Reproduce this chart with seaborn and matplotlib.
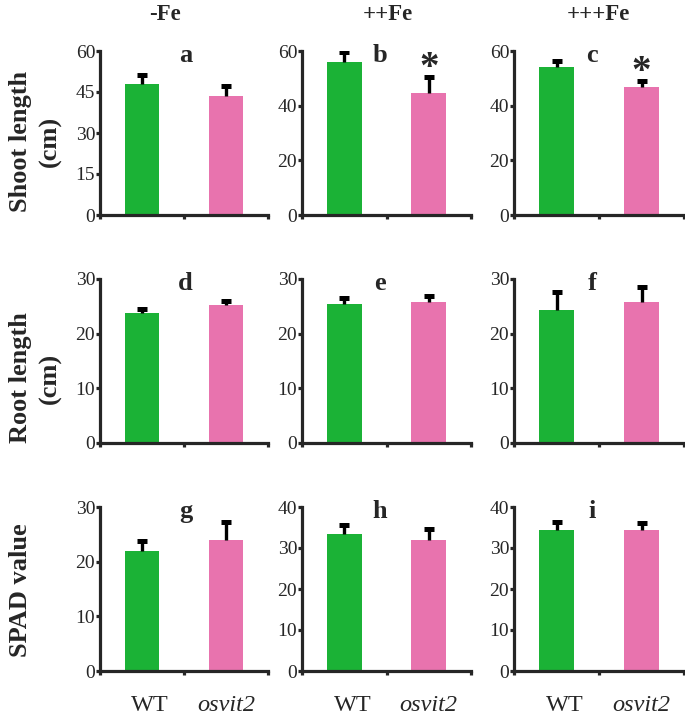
import pandas as pd
import matplotlib.pyplot as plt
import seaborn as sns

# Style
sns.set_style("ticks")
plt.rcParams['font.family'] = ['Liberation Serif', 'DejaVu Serif']

# Data: [WT, osvit2] for each Fe condition
genotypes = ['WT', 'osvit2']
conditions = ['-Fe', '++Fe', '+++Fe']
panel_letters = [['a', 'b', 'c'], ['d', 'e', 'f'], ['g', 'h', 'i']]

shoot_mean = [[48.1, 43.5], [55.9, 44.6], [54.0, 46.8]]
shoot_err = [[3.2, 3.7], [3.8, 5.8], [2.3, 2.4]]
shoot_ticks = [[0, 15, 30, 45, 60], [0, 20, 40, 60], [0, 20, 40, 60]]
shoot_star = [[False, False], [False, True], [False, True]]

root_mean = [[23.7, 25.3], [25.4, 25.8], [24.3, 25.8]]
root_err = [[0.8, 0.7], [1.1, 1.1], [3.4, 2.7]]
root_ticks = [[0, 10, 20, 30], [0, 10, 20, 30], [0, 10, 20, 30]]

spad_mean = [[22.0, 23.9], [33.4, 31.9], [34.3, 34.5]]
spad_err = [[1.8, 3.3], [2.3, 2.7], [2.0, 1.7]]
spad_ticks = [[0, 10, 20, 30], [0, 10, 20, 30, 40], [0, 10, 20, 30, 40]]

rows = [
    (shoot_mean, shoot_err, shoot_ticks, shoot_star),
    (root_mean, root_err, root_ticks, None),
    (spad_mean, spad_err, spad_ticks, None),
]

green = '#1bb236'
pink = '#e873ae'

W, H = 685, 721
fig = plt.figure(figsize=(W / 100, H / 100), dpi=100)

# panel placement in pixels
col_left = [100, 302, 514]
col_right = [268, 471, 684]
row_top = [51, 279, 507]
row_bottom = [215, 443, 671]
letter_x = [0.51, 0.46, 0.46]

for r, (means, errs, ticks, stars) in enumerate(rows):
    for c in range(3):
        ax = fig.add_axes([col_left[c] / W, 1 - row_bottom[r] / H,
                           (col_right[c] - col_left[c]) / W,
                           (row_bottom[r] - row_top[r]) / H])
        df = pd.DataFrame({'genotype': genotypes, 'value': means[c]})
        sns.barplot(data=df, x='genotype', y='value', hue='genotype',
                    palette=[green, pink], width=0.41, saturation=1,
                    errorbar=None, legend=False, linewidth=0, ax=ax)
        # upper-only error bars with a blunt cap
        tops = [m + e for m, e in zip(means[c], errs[c])]
        ax.vlines([0, 1], means[c], tops, color='black', linewidth=2.4)
        ax.plot([0, 1], tops, linestyle='none', marker='_', markersize=6.5,
                markeredgewidth=3.6, color='black')

        ax.set_xlim(-0.5, 1.5)
        ax.set_ylim(0, ticks[c][-1])
        ax.set_yticks(ticks[c])
        ax.set_xticks([-0.5, 0.5, 1.5])
        ax.set_xticklabels([])
        ax.set_xlabel('')
        ax.set_ylabel('')
        sns.despine(ax=ax)
        for s in ['left', 'bottom']:
            ax.spines[s].set_linewidth(2.3)
        ax.tick_params(axis='both', length=3, width=2.3, labelsize=14, pad=0.5)

        ax.text(letter_x[c], 0.97, panel_letters[r][c], transform=ax.transAxes,
                ha='center', va='center', fontsize=19, fontweight='bold')

        if stars is not None:
            for i, sig in enumerate(stars[c]):
                if sig:
                    ax.annotate('*', xy=(i, tops[i]),
                                xytext=(0, 6), textcoords='offset points',
                                ha='center', va='center', fontsize=28,
                                fontweight='bold')

        if r == 2:
            for i, g in enumerate(genotypes):
                ax.annotate(g, xy=(i, 0), xycoords=('data', 'axes fraction'),
                            xytext=(6 if i == 0 else 0, -25),
                            textcoords='offset points', ha='center',
                            va='center', fontsize=17.5,
                            style='italic' if g == 'osvit2' else 'normal',
                            annotation_clip=False)

# column titles
for x, t in zip([165, 388, 598], conditions):
    fig.text(x / W, 1 - 15 / H, t, ha='center', va='center',
             fontsize=16.5, fontweight='bold')

# row labels
ylab = dict(rotation=90, ha='center', va='center', fontsize=19, fontweight='bold')
fig.text(21 / W, 1 - 141 / H, 'Shoot length', **ylab)
fig.text(50 / W, 1 - 141 / H, '(cm)', **ylab)
fig.text(21 / W, 1 - 378 / H, 'Root length', **ylab)
fig.text(50 / W, 1 - 378 / H, '(cm)', **ylab)
fig.text(21 / W, 1 - 590 / H, 'SPAD value', **ylab)

fig.savefig('out.png', dpi=100)
